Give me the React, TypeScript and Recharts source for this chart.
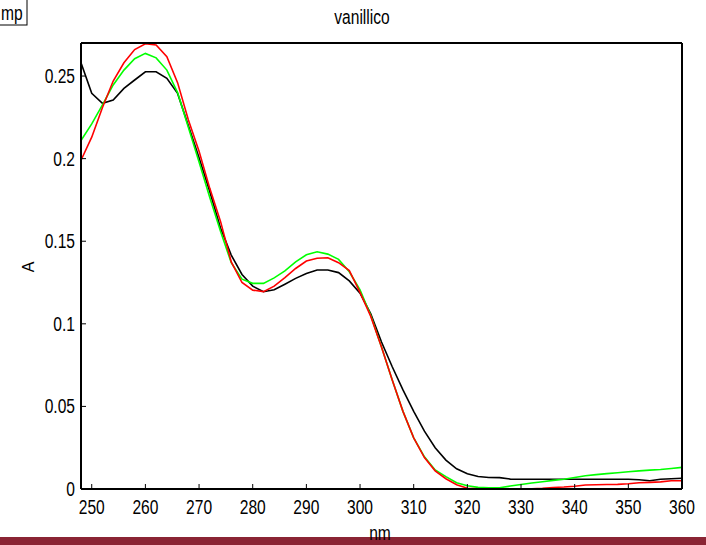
import { LineChart, Line, XAxis, YAxis } from "recharts";

const nm = [
  248, 250, 252, 254, 256, 258, 260, 262, 264, 266, 268, 270, 272, 274, 276,
  278, 280, 282, 284, 286, 288, 290, 292, 294, 296, 298, 300, 302, 304, 306,
  308, 310, 312, 314, 316, 318, 320, 322, 324, 326, 328, 330, 332, 334, 336,
  338, 340, 342, 344, 346, 348, 350, 352, 354, 356, 358, 360,
];

const black = [
  0.258, 0.2395, 0.2335, 0.2355, 0.2425, 0.2476, 0.2526, 0.2526, 0.2486, 0.2395,
  0.22, 0.2005, 0.18, 0.158, 0.1416, 0.1299, 0.1228, 0.1194, 0.1206, 0.124,
  0.1275, 0.1305, 0.1326, 0.1326, 0.131, 0.126, 0.1185, 0.106, 0.089, 0.074,
  0.06, 0.047, 0.035, 0.025, 0.0175, 0.0122, 0.0092, 0.0076, 0.007, 0.0069,
  0.006, 0.0059, 0.0059, 0.0059, 0.0059, 0.0059, 0.0059, 0.0059, 0.0059, 0.0059,
  0.0059, 0.0059, 0.0056, 0.005, 0.0059, 0.0062, 0.0065,
];

const red = [
  0.199, 0.213, 0.231, 0.247, 0.258, 0.266, 0.2695, 0.2688, 0.2617, 0.246,
  0.2235, 0.2045, 0.182, 0.162, 0.1375, 0.125, 0.1204, 0.1195, 0.1228, 0.128,
  0.1335, 0.138, 0.1397, 0.14, 0.137, 0.1322, 0.119, 0.1045, 0.086, 0.066,
  0.047, 0.031, 0.019, 0.011, 0.0062, 0.0026, 0.0005, 0.0001, 0, 0,
  0, 0, 0.0001, 0.0004, 0.0009, 0.0012, 0.0017, 0.0024, 0.0026, 0.0027,
  0.0028, 0.0032, 0.0038, 0.004, 0.0043, 0.005, 0.005,
];

const green = [
  0.211, 0.221, 0.2325, 0.2446, 0.2536, 0.2605, 0.2637, 0.261, 0.2536, 0.24,
  0.219, 0.198, 0.1765, 0.156, 0.137, 0.127, 0.1245, 0.1245, 0.1278, 0.132,
  0.1375, 0.1418, 0.1436, 0.1422, 0.139, 0.1315, 0.1205, 0.105, 0.086, 0.066,
  0.047, 0.031, 0.0195, 0.0115, 0.0075, 0.0038, 0.002, 0.001, 0.0008, 0.0008,
  0.0018, 0.0027, 0.0036, 0.0044, 0.0052, 0.0059, 0.007, 0.008, 0.0087, 0.0093,
  0.0098, 0.0104, 0.011, 0.0114, 0.0118, 0.0124, 0.0131,
];

const xTicks = [250, 260, 270, 280, 290, 300, 310, 320, 330, 340, 350, 360];
const yTicks = [0, 0.05, 0.1, 0.15, 0.2, 0.25];

const data = nm.map((x, i) => ({ nm: x, k: black[i], r: red[i], g: green[i] }));

const font = "'Liberation Sans', Arial, sans-serif";
const FS = 19.5;
const SX = 0.8;
const axisLine = { stroke: "#000", strokeWidth: 2 };
const tickLine = { stroke: "#000", strokeWidth: 1 };

// narrow text: the reference font is tall and condensed
const T = ({ x, y, anchor = "middle", dy = "0", size = FS, children }: any) => (
  <g transform={`translate(${x},${y})`}>
    <text transform={`scale(${SX},1)`} textAnchor={anchor} dy={dy} fontSize={size} fontFamily={font} fill="#000">
      {children}
    </text>
  </g>
);

const XTick = (p: any) => (
  <T x={p.x} y={p.y} anchor="middle" dy="0.71em">{p.payload.value}</T>
);
const YTick = (p: any) => (
  <T x={p.x} y={p.y} anchor="end" dy="0.36em">{p.payload.value}</T>
);

export default function App() {
  return (
    <div style={{ position: "absolute", left: 0, top: 0, width: 706, height: 545, background: "#fff" }}>
      <LineChart width={706} height={545} data={data} margin={{ top: 43, right: 24, bottom: 0, left: 0 }}>
        <XAxis
          xAxisId="b"
          dataKey="nm"
          type="number"
          domain={[248, 360]}
          ticks={xTicks}
          allowDataOverflow
          height={56}
          tickSize={-5}
          tickMargin={16}
          axisLine={axisLine}
          tickLine={tickLine}
          tick={<XTick />}
        />
        <XAxis
          xAxisId="t"
          orientation="top"
          mirror
          dataKey="nm"
          type="number"
          domain={[248, 360]}
          ticks={xTicks}
          allowDataOverflow
          tickSize={5}
          axisLine={axisLine}
          tickLine={tickLine}
          tick={false}
        />
        <YAxis
          yAxisId="l"
          type="number"
          domain={[0, 0.27]}
          ticks={yTicks}
          allowDataOverflow
          width={81}
          tickSize={-5}
          tickMargin={11}
          axisLine={axisLine}
          tickLine={tickLine}
          tick={<YTick />}
        />
        <YAxis
          yAxisId="r"
          orientation="right"
          mirror
          type="number"
          domain={[0, 0.27]}
          ticks={yTicks}
          allowDataOverflow
          tickSize={5}
          axisLine={axisLine}
          tickLine={tickLine}
          tick={false}
        />
        <Line xAxisId="b" yAxisId="l" type="linear" dataKey="k" stroke="#000" strokeWidth={1.6} dot={false} isAnimationActive={false} />
        <Line xAxisId="b" yAxisId="l" type="linear" dataKey="g" stroke="#00ff00" strokeWidth={1.6} dot={false} isAnimationActive={false} />
        <Line xAxisId="b" yAxisId="l" type="linear" dataKey="r" stroke="#ff0000" strokeWidth={1.6} dot={false} isAnimationActive={false} />
      </LineChart>
      <svg width={706} height={545} style={{ position: "absolute", left: 0, top: 0, pointerEvents: "none" }}>
        <rect x={-20} y={-2} width={47} height={27} fill="#fff" stroke="#000" strokeWidth={1} />
        <T x={1} y={20} anchor="start">mp</T>
        <T x={362} y={24}>vanillico</T>
        <text x={0} y={0} transform="translate(34,267) rotate(-90)" textAnchor="middle" fontSize={16} fontFamily={font} fill="#000">A</text>
        <rect x={0} y={537} width={706} height={8} fill="#8a2434" />
        <T x={380} y={540}>nm</T>
      </svg>
    </div>
  );
}
